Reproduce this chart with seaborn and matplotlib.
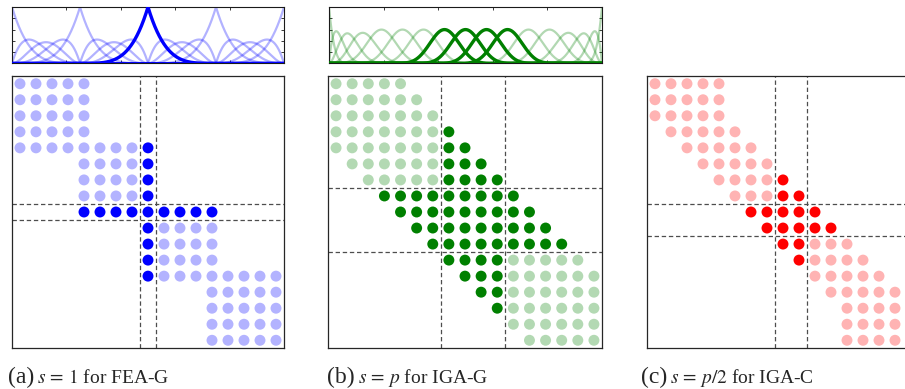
import numpy as np
import pandas as pd
import matplotlib
matplotlib.use("Agg")
import matplotlib.pyplot as plt
import seaborn as sns

# ---------------------------------------------------------------- data
DEGREE = 4
N_BASIS = 17

# C0 (FEA) and maximally smooth (IGA) quartic knot vectors on [0, 1]
fea_knots = [0, 0, 0, 0, 0,
             0.25, 0.25, 0.25, 0.25,
             0.5, 0.5, 0.5, 0.5,
             0.75, 0.75, 0.75, 0.75,
             1, 1, 1, 1, 1]
iga_knots = [0, 0, 0, 0, 0,
             0.0769, 0.1538, 0.2308, 0.3077, 0.3846, 0.4615,
             0.5385, 0.6154, 0.6923, 0.7692, 0.8462, 0.9231,
             1, 1, 1, 1, 1]

# first / last nonzero column of every matrix row
fea_g_rows = [(0, 4), (0, 4), (0, 4), (0, 4), (0, 8), (4, 8), (4, 8), (4, 8),
              (4, 12), (8, 12), (8, 12), (8, 12), (8, 16), (12, 16), (12, 16),
              (12, 16), (12, 16)]
iga_g_rows = [(0, 4), (0, 5), (0, 6), (0, 7), (0, 8), (1, 9), (2, 10), (3, 11),
              (4, 12), (5, 13), (6, 14), (7, 15), (8, 16), (9, 16), (10, 16),
              (11, 16), (12, 16)]
iga_c_rows = [(0, 4), (0, 4), (0, 4), (1, 5), (2, 6), (3, 7), (4, 8), (5, 9),
              (6, 10), (7, 11), (8, 12), (9, 13), (10, 14), (11, 15), (12, 16),
              (12, 16), (12, 16)]

# degrees of freedom owned by one subdomain
fea_g_active = [8]
iga_g_active = [7, 8, 9, 10]
iga_c_active = [8, 9]

captions = [("(a)", r"$s\,=\,1$ for FEA-G"),
            ("(b)", r"$s\,=\,p$ for IGA-G"),
            ("(c)", r"$s\,=\,p/2$ for IGA-C")]

BLUE, BLUE_LIGHT = (0.0, 0.0, 1.0), (0.7, 0.7, 1.0)
GREEN, GREEN_LIGHT = (0.0, 0.5, 0.0), (0.7, 0.85, 0.7)
RED, RED_LIGHT = (1.0, 0.0, 0.0), (1.0, 0.7, 0.7)


def bspline_basis(knots, p, x):
    """Cox-de Boor recursion; returns array (n_basis, len(x))."""
    t = np.asarray(knots, float)
    m = len(t) - 1
    N = np.zeros((m, x.size))
    last = np.max(np.nonzero(np.diff(t) > 0))
    for i in range(m):
        if t[i + 1] > t[i]:
            mask = (x >= t[i]) & (x < t[i + 1])
            if i == last:
                mask |= x == t[i + 1]
            N[i, mask] = 1.0
    for k in range(1, p + 1):
        Nk = np.zeros((m - k, x.size))
        for i in range(m - k):
            d1 = t[i + k] - t[i]
            d2 = t[i + k + 1] - t[i + 1]
            val = np.zeros_like(x)
            if d1 > 0:
                val += (x - t[i]) / d1 * N[i]
            if d2 > 0:
                val += (t[i + k + 1] - x) / d2 * N[i + 1]
            Nk[i] = val
        N = Nk
    return N


def pattern_frame(rows, active):
    recs = []
    for r, (c0, c1) in enumerate(rows):
        for c in range(c0, c1 + 1):
            recs.append({"row": r, "col": c,
                         "active": (r in active) or (c in active)})
    return pd.DataFrame(recs)


# ---------------------------------------------------------------- style
sns.set_theme(style="white")
plt.rcParams["font.family"] = ["Liberation Serif", "DejaVu Serif"]
plt.rcParams["mathtext.fontset"] = "stix"

W, H = 905, 389
fig = plt.figure(figsize=(W / 100, H / 100), dpi=100)


def px_axes(x0, y0, x1, y1):
    return fig.add_axes([x0 / W, 1 - y1 / H, (x1 - x0) / W, (y1 - y0) / H])


def basis_panel(ax, knots, active, dark):
    x = np.linspace(0, 1, 1201)
    N = bspline_basis(knots, DEGREE, x)
    for j in range(N.shape[0]):
        if j in active:
            continue
        sns.lineplot(x=x, y=N[j], ax=ax, color=dark, lw=1.6, alpha=0.3,
                     estimator=None, sort=False)
    for j in active:
        sns.lineplot(x=x, y=N[j], ax=ax, color=dark, lw=2.4,
                     estimator=None, sort=False, zorder=5)
    ax.set_xlim(0, 1)
    ax.set_ylim(0, 1)
    ax.set_xticks(np.arange(0, 1.01, 0.2))
    ax.set_yticks(np.arange(0, 1.01, 0.2))
    ax.tick_params(direction="in", length=2.5, width=0.6, color="0.1",
                   top=True, bottom=True, left=True, right=True,
                   labelbottom=False, labelleft=False)
    ax.set_xlabel("")
    ax.set_ylabel("")
    for sp in ax.spines.values():
        sp.set_color("0.1")
        sp.set_linewidth(0.8)


def matrix_panel(ax, rows, active, dark, light):
    df = pattern_frame(rows, active)
    sns.scatterplot(data=df, x="col", y="row", hue="active",
                    palette={False: light, True: dark}, s=62, linewidth=0,
                    legend=False, ax=ax, zorder=3)
    lo, hi = min(active) - 0.5, max(active) + 0.5
    for v in (lo, hi):
        ax.axvline(v, color="0.3", lw=0.9, dashes=(3.5, 2.2), zorder=2)
        ax.axhline(v, color="0.3", lw=0.9, dashes=(3.5, 2.2), zorder=2)
    ax.set_xlim(-0.5, N_BASIS - 0.5)
    ax.set_ylim(N_BASIS - 0.5, -0.5)
    ax.set_xticks([])
    ax.set_yticks([])
    ax.set_xlabel("")
    ax.set_ylabel("")
    for sp in ax.spines.values():
        sp.set_color("0.15")
        sp.set_linewidth(0.9)


# ---------------------------------------------------------------- panels
ax = px_axes(12, 7, 284, 63.3)
basis_panel(ax, fea_knots, fea_g_active, BLUE)
ax = px_axes(12, 75.7, 284, 348.3)
matrix_panel(ax, fea_g_rows, fea_g_active, BLUE, BLUE_LIGHT)

ax = px_axes(329, 7, 602, 63.3)
basis_panel(ax, iga_knots, iga_g_active, GREEN)
ax = px_axes(328, 75.7, 602, 348.3)
matrix_panel(ax, iga_g_rows, iga_g_active, GREEN, GREEN_LIGHT)

ax = px_axes(647, 75.7, 919, 348.3)
matrix_panel(ax, iga_c_rows, iga_c_active, RED, RED_LIGHT)

# ---------------------------------------------------------------- captions
fig.canvas.draw()
renderer = fig.canvas.get_renderer()
for (tag, body), x0 in zip(captions, (8, 327, 641)):
    t = fig.text(x0 / W, 1 - 383 / H, tag, fontsize=17, va="baseline",
                 ha="left")
    bb = t.get_window_extent(renderer)
    fig.text((bb.x1 + 3) / W, 1 - 383 / H, body, fontsize=14,
             va="baseline", ha="left")

fig.savefig("out.png", dpi=100)
